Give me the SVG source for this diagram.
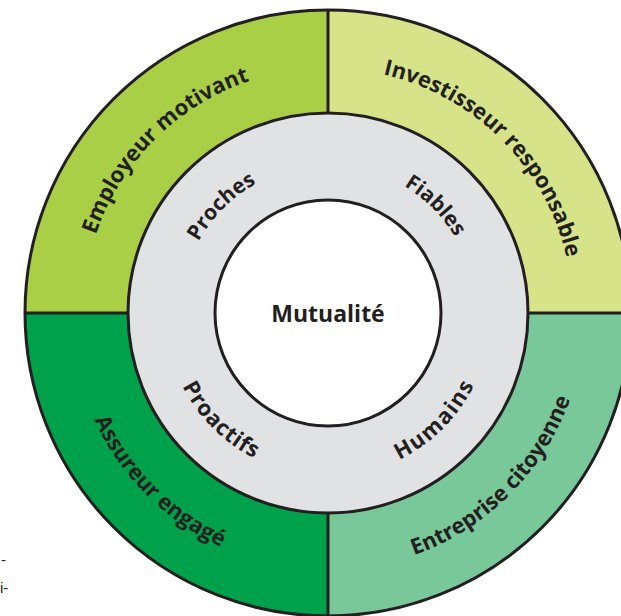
<svg xmlns="http://www.w3.org/2000/svg" width="621" height="616" viewBox="0 0 621 616">
<style>
.seg{stroke:none}
.ln{fill:none;stroke:#231f20;stroke-width:3}
.lbl{font-family:"Open Sans","Noto Sans",sans-serif;font-weight:700;font-size:22px;fill:#231f20}
.in{font-size:21px}
.inb{font-size:22px}
.ctr{font-size:23px}
.side{font-family:"Liberation Sans",Arial,sans-serif;font-size:15px;fill:#231f20}
</style>
<defs>
<path id="pTL" d="M83,313 A245,245 0 0 1 328,68"/>
<path id="pTR" d="M328,68 A245,245 0 0 1 573,313"/>
<path id="pBL" d="M71,313 A257,257 0 0 0 328,570"/>
<path id="pBR" d="M328,570 A257,257 0 0 0 585,313"/>
<path id="iTL" d="M180,313 A148,148 0 0 1 328,165"/>
<path id="iTR" d="M328,165 A148,148 0 0 1 476,313"/>
<path id="iBL" d="M165,313 A163,163 0 0 0 328,476"/>
<path id="iBR" d="M328,476 A163,163 0 0 0 491,313"/>
</defs>
<g id="employeur">
<path class="seg" fill="#a9cf46" d="M328,313 L25,313 A303,303 0 0 1 328,10 Z"/>
<text class="lbl"><textPath href="#pTL" startOffset="50%" text-anchor="middle">Employeur motivant</textPath></text>
</g>
<g id="investisseur">
<path class="seg" fill="#d6e389" d="M328,313 L328,10 A303,303 0 0 1 631,313 Z"/>
<text class="lbl"><textPath href="#pTR" startOffset="50%" text-anchor="middle">Investisseur responsable</textPath></text>
</g>
<g id="entreprise">
<path class="seg" fill="#78c89a" d="M328,313 L631,313 A303,303 0 0 1 328,616 Z"/>
<text class="lbl"><textPath href="#pBR" startOffset="50%" text-anchor="middle">Entreprise citoyenne</textPath></text>
</g>
<g id="assureur">
<path class="seg" fill="#00a14b" d="M328,313 L328,616 A303,303 0 0 1 25,313 Z"/>
<text class="lbl"><textPath href="#pBL" startOffset="50%" text-anchor="middle">Assureur engagé</textPath></text>
</g>
<g id="valeurs">
<circle cx="328" cy="313" r="200" fill="#e1e2e4" stroke="#231f20" stroke-width="3"/>
</g>
<g id="proches"><text class="lbl in"><textPath href="#iTL" startOffset="50%" text-anchor="middle">Proches</textPath></text></g>
<g id="fiables"><text class="lbl in"><textPath href="#iTR" startOffset="50%" text-anchor="middle">Fiables</textPath></text></g>
<g id="proactifs"><text class="lbl inb" letter-spacing="0.7"><textPath href="#iBL" startOffset="50%" text-anchor="middle">Proactifs</textPath></text></g>
<g id="humains"><text class="lbl inb" letter-spacing="1.5"><textPath href="#iBR" startOffset="50%" text-anchor="middle">Humains</textPath></text></g>
<g id="mutualite">
<circle cx="328" cy="313" r="113" fill="#ffffff" stroke="#231f20" stroke-width="3"/>
<text class="lbl ctr" x="328" y="322" text-anchor="middle">Mutualité</text>
</g>
<g id="connectors">
<circle class="ln" cx="328" cy="313" r="303"/>
<path class="ln" d="M25,313 H128 M528,313 H631 M328,10 V113 M328,513 V616"/>
</g>
<text class="side" x="1" y="565">-</text>
<text class="side" x="0" y="593">i-</text>
</svg>
